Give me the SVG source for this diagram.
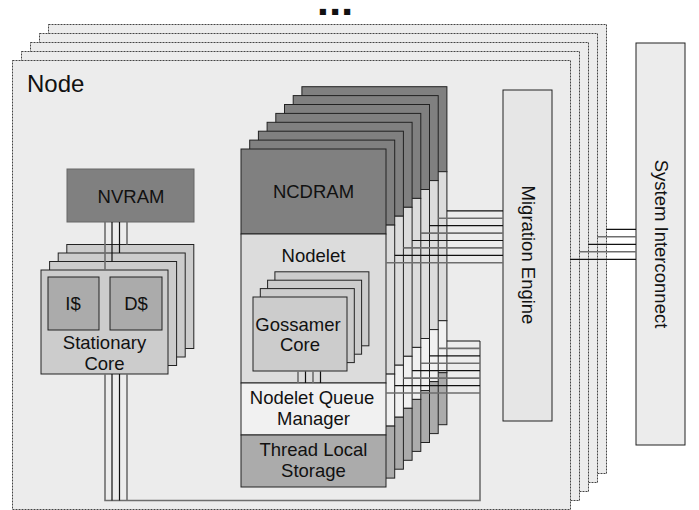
<svg xmlns="http://www.w3.org/2000/svg" xmlns:xlink="http://www.w3.org/1999/xlink" width="699" height="510" viewBox="0 0 699 510">
<style>
text{font-family:"Liberation Sans",Arial,sans-serif;font-size:18.5px;fill:#111;text-anchor:middle}
.frame{fill:#ececec;stroke:#444;stroke-width:1;stroke-dasharray:2 1}
.box{stroke:#222;stroke-width:1}
.dk{stroke:#111;stroke-width:1.2;fill:none}
.gy{stroke:#6e6e6e;stroke-width:1.6;fill:none}
</style>
<defs>
<g id="layer">
<rect class="box" x="241" y="149" width="145" height="85" fill="#808080"/>
<rect class="box" x="241" y="234" width="145" height="149" fill="#dcdcdc"/>
<rect class="box" x="241" y="383" width="145" height="52" fill="#f1f1f1"/>
<rect class="box" x="241" y="435" width="145" height="52" fill="#ababab"/>
</g>
<rect id="score" class="box" x="41" y="270" width="127" height="104" fill="#cccccc"/>
<rect id="gcore" class="box" x="253" y="297" width="94" height="74" fill="#cccccc"/>
</defs>
<rect x="0" y="0" width="699" height="510" fill="#ffffff"/>
<text x="319" y="13.5" style="font-family:'DejaVu Sans',sans-serif;font-size:8px;text-anchor:start;letter-spacing:4.6px">■■■</text>
<g id="node-frames">
<rect class="frame" x="48.5" y="24.5" width="558" height="449"/>
<rect class="frame" x="39.5" y="33.5" width="558" height="449"/>
<rect class="frame" x="30.5" y="42.5" width="558" height="449"/>
<rect class="frame" x="21.5" y="51.5" width="558" height="449"/>
<rect class="frame" x="12.5" y="60.5" width="558" height="449"/>
<text x="27" y="92" style="text-anchor:start;font-size:24px">Node</text>
</g>
<g id="system-interconnect">
<rect class="box" x="636" y="43" width="49" height="402" fill="#ececec"/>
<text transform="translate(655,244) rotate(90)">System Interconnect</text>
</g>
<g id="migration-engine">
<rect class="box" x="503" y="90" width="49" height="331" fill="#e6e6e6"/>
<text transform="translate(522,255) rotate(90)">Migration Engine</text>
</g>
<g id="nvram">
<rect x="67" y="169" width="127" height="53" fill="#808080" stroke="#666"/>
<text x="131" y="203">NVRAM</text>
</g>
<g id="stationary-core">
<use xlink:href="#score" transform="translate(25.8,-25.5)"/>
<use xlink:href="#score" transform="translate(17.2,-17)"/>
<use xlink:href="#score" transform="translate(8.6,-8.5)"/>
<use xlink:href="#score"/>
<rect class="box" x="48" y="277" width="51" height="53" fill="#ababab"/>
<rect class="box" x="110" y="277" width="52" height="53" fill="#ababab"/>
<text x="73" y="310">I$</text>
<text x="136" y="310">D$</text>
<text x="104.5" y="349">Stationary</text>
<text x="104.5" y="370">Core</text>
</g>
<g id="nodelet-stack">
<use xlink:href="#layer" transform="translate(60.9,-62.3)"/>
<use xlink:href="#layer" transform="translate(52.2,-53.4)"/>
<use xlink:href="#layer" transform="translate(43.5,-44.5)"/>
<use xlink:href="#layer" transform="translate(34.8,-35.6)"/>
<use xlink:href="#layer" transform="translate(26.1,-26.7)"/>
<use xlink:href="#layer" transform="translate(17.4,-17.8)"/>
<use xlink:href="#layer" transform="translate(8.7,-8.9)"/>
<use xlink:href="#layer"/>
<text x="313.5" y="198">NCDRAM</text>
<text x="313.5" y="262">Nodelet</text>
<text x="312" y="404">Nodelet Queue</text>
<text x="313.5" y="425">Manager</text>
<text x="313.5" y="456">Thread Local</text>
<text x="313.5" y="477">Storage</text>
</g>
<g id="gossamer-core">
<use xlink:href="#gcore" transform="translate(21.9,-25.2)"/>
<use xlink:href="#gcore" transform="translate(14.6,-16.8)"/>
<use xlink:href="#gcore" transform="translate(7.3,-8.4)"/>
<use xlink:href="#gcore"/>
<text x="298" y="331">Gossamer</text>
<text x="300" y="351">Core</text>
</g>
<g id="connectors">
<path class="gy" d="M105,222V270M127,222V244.5M105,374V500.5H480V341M127,374V500.5"/>
<path class="dk" d="M112,222V261.5M119.5,222V253M112,374V500.5M119.5,374V500.5"/>
<path class="gy" d="M298,371.5V383M313,371.5V383"/>
<path class="dk" d="M305.5,371.5V383M320.5,371.5V383"/>
<path class="gy" d="M386,262.7H503M403.4,247.9H503M420.8,233.1H503M438.2,218.3H503M386,393H480M403.4,378.1H480M420.8,363.3H480M438.2,348.4H480"/>
<path class="dk" d="M394.7,255.3H503M412.1,240.5H503M429.5,225.7H503M446.9,210.9H503M394.7,385.6H480M412.1,370.7H480M429.5,355.9H480M446.9,341H480"/>
<path class="dk" d="M570,259.3H636M588,244.3H636M606,229.3H636"/>
<path class="gy" d="M579,251.8H636M597,236.8H636"/>
</g>
</svg>
